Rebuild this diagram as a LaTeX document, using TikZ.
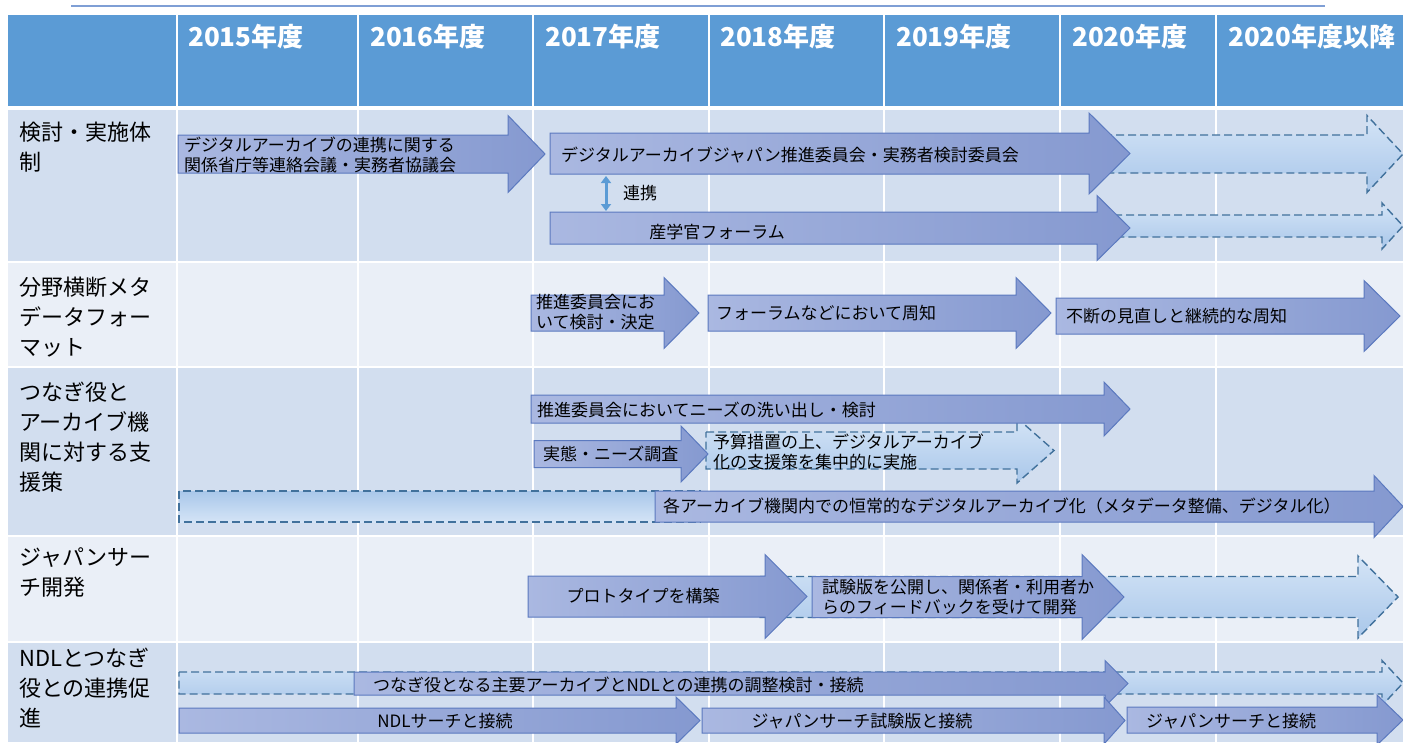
\documentclass[tikz,border=0pt]{standalone}
\usepackage{fontspec}
\setmainfont{Noto Sans CJK JP}
\usepackage{tikz}
\usetikzlibrary{arrows.meta}
\definecolor{hdrblue}{HTML}{5B9BD5}
\definecolor{banddark}{HTML}{D2DEEF}
\definecolor{bandlight}{HTML}{EAEFF7}
\definecolor{barleft}{HTML}{AAB8E1}
\definecolor{barright}{HTML}{8599D0}
\definecolor{barline}{HTML}{5B79BF}
\definecolor{dashline}{HTML}{41719C}
\definecolor{dashlight}{HTML}{D4E4F6}
\definecolor{dashdark}{HTML}{A9C7EA}
\definecolor{toprule}{HTML}{7F9FD5}

% fat timeline arrow: start x, head base x, tip x, centre y, half body, half head
\newcommand{\tlarrow}[7][]{%
  \path[#1] (#2,{#5-#6}) -- (#3,{#5-#6}) -- (#3,{#5-#7}) -- (#4,#5)
    -- (#3,{#5+#7}) -- (#3,{#5+#6}) -- (#2,{#5+#6}) -- cycle;}

\begin{document}
\begin{tikzpicture}[x=1pt, y=-1pt,
  solidbar/.style={draw=barline, line width=1pt, left color=barleft, right color=barright},
  dashbar/.style={draw=dashline, line width=1.4pt, dash pattern=on 8pt off 4pt, top color=dashlight, bottom color=dashdark},
  dashbox/.style={dashbar, top color=dashdark, bottom color=dashlight},
  barlabel/.style={font=\fontsize{17}{20}\selectfont, inner sep=0pt, align=left, text=black},
  rowlabel/.style={font=\fontsize{22}{30}\selectfont, inner sep=0pt, align=left, anchor=north west},
  yearlabel/.style={font=\fontsize{26}{30}\selectfont\bfseries, text=white, inner sep=0pt, anchor=west}
]
  \useasboundingbox (0,0) rectangle (1403,742);
  \draw[toprule, line width=1.5pt] (71,6) -- (1325,6);

  % Table bands
  \fill[hdrblue] (8,15) rectangle (1403,106);
  \foreach \ya/\yb/\col in {110/261/banddark, 263/366/bandlight, 368/535/banddark,
    537/641/bandlight, 643/742/banddark} {
    \fill[\col] (8,\ya) rectangle (1403,\yb);
  }
  \foreach \x in {177, 358, 533, 709, 884, 1060, 1216} {
    \draw[white, line width=2pt] (\x,15) -- (\x,742);
  }

  % Year headings
  \foreach \x/\yr in {188/2015年度, 370/2016年度, 545/2017年度, 720/2018年度,
    896/2019年度, 1072/2020年度, 1228/2020年度以降} {
    \node[yearlabel] (y\x) at (\x,37) {\yr};
  }

  % Row headings
  \node[rowlabel] (r1) at (19,122) {検討・実施体\\制};
  \node[rowlabel] (r2) at (19,277) {分野横断メタ\\データフォー\\マット};
  \node[rowlabel] (r3) at (19,382) {つなぎ役と\\アーカイブ機\\関に対する支\\援策};
  \node[rowlabel] (r4) at (19,547) {ジャパンサー\\チ開発};
  \node[rowlabel] (r5) at (19,648) {NDLとつなぎ\\役との連携促\\進};

  % Row 1
  \tlarrow[dashbar]{1080}{1367}{1403}{154}{19}{38.5}
  \tlarrow[solidbar]{178}{508}{545}{154}{19}{38.5}
  \tlarrow[solidbar]{550}{1089}{1130}{153.5}{20.5}{40.5}
  \tlarrow[dashbar]{1090}{1382}{1403}{226}{11}{23}
  \tlarrow[solidbar]{550}{1097}{1130}{228}{16}{32.5}
  \node[barlabel, anchor=west] (renraku) at (184,155) {デジタルアーカイブの連携に関する\\関係省庁等連絡会議・実務者協議会};
  \node[barlabel, anchor=west] (dajapan) at (561,155) {デジタルアーカイブジャパン推進委員会・実務者検討委員会};
  \node[barlabel] (forum) at (717,232) {産学官フォーラム};
  \coordinate (dajapan-s) at (606,176);
  \coordinate (forum-n) at (606,211);
  \draw[hdrblue, line width=3pt, {Triangle[width=10pt,length=7pt]}-{Triangle[width=10pt,length=7pt]}]
    (dajapan-s) -- (forum-n);
  \node[barlabel, anchor=west] (linktxt) at (623,193) {連携};

  % Row 2
  \tlarrow[solidbar]{531}{664}{699}{313}{18}{35.5}
  \tlarrow[solidbar]{708}{1016}{1051}{313}{18}{35.5}
  \tlarrow[solidbar]{1056}{1364}{1400}{316}{18}{35.5}
  \node[barlabel, anchor=west] (suishin) at (536,312) {推進委員会にお\\いて検討・決定};
  \node[barlabel, anchor=west] (shuchi) at (716,313) {フォーラムなどにおいて周知};
  \node[barlabel, anchor=west] (minaoshi) at (1066,316) {不断の見直しと継続的な周知};

  % Row 3
  \tlarrow[dashbar]{706}{1017}{1054}{450.5}{18.5}{32.5}
  \tlarrow[solidbar]{531}{1104}{1130}{409}{14}{27}
  \tlarrow[solidbar]{534}{681}{708}{454}{13.5}{28}
  \draw[dashbox] (179,491) rectangle (700,522);
  \tlarrow[solidbar]{655}{1374}{1403}{506.5}{15.5}{31}
  \node[barlabel, anchor=west] (needs) at (537,410) {推進委員会においてニーズの洗い出し・検討};
  \node[barlabel, anchor=west] (chosa) at (543,454) {実態・ニーズ調査};
  \node[barlabel, anchor=west] (yosan) at (713,452) {予算措置の上、デジタルアーカイブ\\化の支援策を集中的に実施};
  \node[barlabel, anchor=west] (joujou) at (663,506) {各アーカイブ機関内での恒常的なデジタルアーカイブ化（メタデータ整備、デジタル化）};

  % Row 4
  \tlarrow[dashbar]{760}{1358}{1398}{597}{20.5}{41}
  \tlarrow[solidbar]{528}{765}{807}{596.5}{20.5}{42}
  \tlarrow[solidbar]{812}{1082}{1124}{597}{20.5}{42.5}
  \node[barlabel] (proto) at (643,596) {プロトタイプを構築};
  \node[barlabel, anchor=west] (shiken) at (822,597) {試験版を公開し、関係者・利用者か\\らのフィードバックを受けて開発};

  % Row 5
  \tlarrow[dashbar]{179}{1382}{1403}{683}{11}{22.5}
  \tlarrow[solidbar]{354}{1105}{1128}{683.5}{11.5}{23}
  \tlarrow[solidbar]{179}{676}{700}{720.5}{12.5}{23.5}
  \tlarrow[solidbar]{702}{1104}{1125}{720.5}{12.5}{23.5}
  \tlarrow[solidbar]{1127}{1377}{1403}{720}{13}{25}
  \node[barlabel, anchor=west] (chosei) at (373,685) {つなぎ役となる主要アーカイブとNDLとの連携の調整検討・接続};
  \node[barlabel] (ndlsearch) at (445,721) {NDLサーチと接続};
  \node[barlabel] (jpstrial) at (862,721) {ジャパンサーチ試験版と接続};
  \node[barlabel, anchor=west] (jpsearch) at (1146,721) {ジャパンサーチと接続};
\end{tikzpicture}
\end{document}
